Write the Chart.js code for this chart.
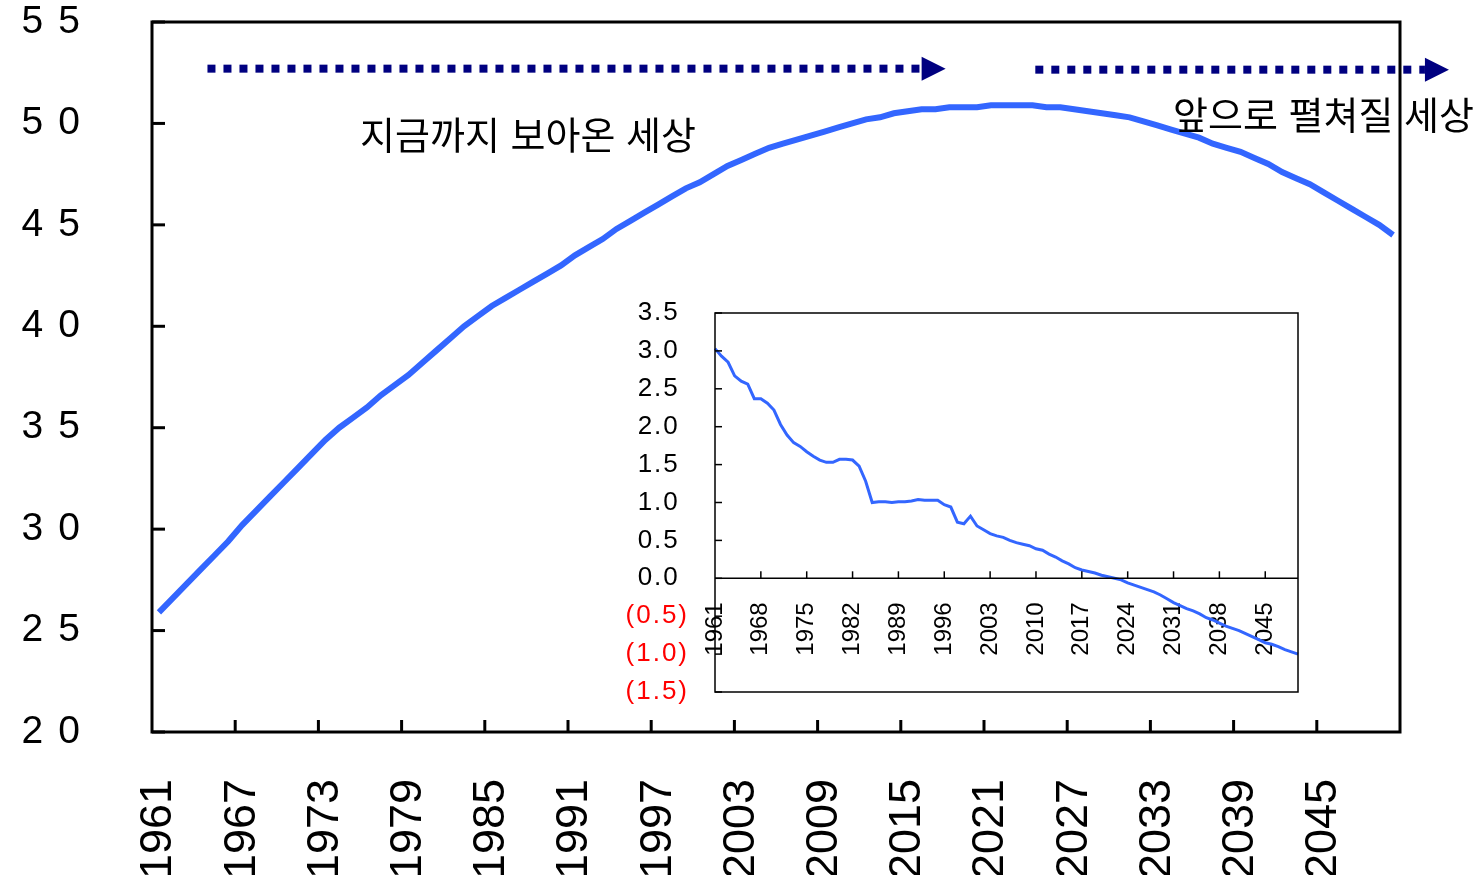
<!DOCTYPE html>
<html lang="ko">
<head>
<meta charset="UTF-8">
<title>지금까지 보아온 세상 / 앞으로 펼쳐질 세상</title>
<script src="https://cdn.jsdelivr.net/npm/chart.js"></script>
<style>
  html, body { margin: 0; padding: 0; background: #fff; }
  #wrap { position: relative; width: 1480px; height: 875px; overflow: hidden; }
  #main { position: absolute; left: 0; top: 0; }
  #inset { position: absolute; left: 600px; top: 290px; }
  .note { position: absolute; font-family: "Noto Sans CJK KR", sans-serif; font-size: 38px; line-height: 1; color: #000; white-space: nowrap; }
</style>
</head>
<body>
<div id="wrap">
  <canvas id="main" width="1480" height="875"></canvas>
  <canvas id="inset" width="720" height="420"></canvas>
  <div class="note" style="left:360px; top:114px;">지금까지 보아온 세상</div>
  <div class="note" style="left:1173px; top:94px;">앞으로 펼쳐질 세상</div>
</div>

<script>
// categories: 1961 ~ 2050
const years = Array.from({ length: 90 }, (_, i) => String(1961 + i));

// main series (left chart)
const mainValues = [
  25.9, 26.6, 27.3, 28.0, 28.7, 29.4, 30.2, 30.9, 31.6, 32.3,
  33.0, 33.7, 34.4, 35.0, 35.5, 36.0, 36.6, 37.1, 37.6, 38.2,
  38.8, 39.4, 40.0, 40.5, 41.0, 41.4, 41.8, 42.2, 42.6, 43.0,
  43.5, 43.9, 44.3, 44.8, 45.2, 45.6, 46.0, 46.4, 46.8, 47.1,
  47.5, 47.9, 48.2, 48.5, 48.8, 49.0, 49.2, 49.4, 49.6, 49.8,
  50.0, 50.2, 50.3, 50.5, 50.6, 50.7, 50.7, 50.8, 50.8, 50.8,
  50.9, 50.9, 50.9, 50.9, 50.8, 50.8, 50.7, 50.6, 50.5, 50.4,
  50.3, 50.1, 49.9, 49.7, 49.5, 49.3, 49.0, 48.8, 48.6, 48.3,
  48.0, 47.6, 47.3, 47.0, 46.6, 46.2, 45.8, 45.4, 45.0, 44.5
];

// inset series (annual change, %)
const insetValues = [
  3.03, 2.93, 2.85, 2.67, 2.60, 2.56, 2.37, 2.37, 2.31, 2.22,
  2.03, 1.89, 1.79, 1.74, 1.67, 1.61, 1.56, 1.53, 1.53, 1.57,
  1.57, 1.56, 1.48, 1.28, 1.00, 1.01, 1.01, 1.00, 1.01, 1.01,
  1.02, 1.04, 1.03, 1.03, 1.03, 0.97, 0.94, 0.74, 0.72, 0.82,
  0.69, 0.64, 0.59, 0.56, 0.54, 0.50, 0.47, 0.45, 0.43, 0.39,
  0.37, 0.32, 0.28, 0.23, 0.19, 0.14, 0.11, 0.09, 0.07, 0.04,
  0.02, 0.00, -0.02, -0.06, -0.09, -0.12, -0.15, -0.18, -0.22, -0.27,
  -0.32, -0.36, -0.40, -0.43, -0.47, -0.52, -0.55, -0.59, -0.63, -0.66,
  -0.69, -0.73, -0.77, -0.81, -0.85, -0.87, -0.90, -0.94, -0.97, -1.00
];

// dotted arrows above the curve (in year / value units)
const arrows = [
  { from: 1964.5, to: 2016.0, y: 52.7 },
  { from: 2024.2, to: 2052.3, y: 52.65 }
];

const BLUE = "#3366FF";
const NAVY = "#000080";
const SANS = '"Liberation Sans", Arial, sans-serif';

// wider letter spacing on y tick labels
function spacedLabels(axisId, px) {
  return {
    id: "spaced_" + axisId,
    afterLayout(chart) {
      const s = chart.scales[axisId];
      if (!s || s._spaced) return;
      const orig = s.drawLabels;
      s.drawLabels = function (area) {
        const ctx = this.ctx;
        ctx.save();
        ctx.letterSpacing = px + "px";
        orig.call(this, area);
        ctx.restore();
      };
      s._spaced = true;
    }
  };
}

function noPad(s) {
  s.paddingTop = 0; s.paddingBottom = 0; s.paddingLeft = 0; s.paddingRight = 0;
}

function line(ctx, x0, y0, x1, y1) {
  ctx.beginPath(); ctx.moveTo(x0, y0); ctx.lineTo(x1, y1); ctx.stroke();
}

const mainDecor = {
  id: "mainDecor",
  afterDraw(chart) {
    const { ctx, chartArea: a, scales: { x, y } } = chart;
    ctx.save();
    ctx.strokeStyle = "#000";
    ctx.lineWidth = 3;
    y.ticks.forEach(t => {
      const py = y.getPixelForValue(t.value);
      line(ctx, a.left, py, a.left + 13, py);
    });
    for (let i = 6; i < years.length; i += 6) {
      const px = (x.getPixelForValue(i - 1) + x.getPixelForValue(i)) / 2;
      line(ctx, px, a.bottom, px, a.bottom - 12);
    }
    ctx.strokeRect(a.left, a.top, a.right - a.left, a.bottom - a.top);

    // arrows
    arrows.forEach(ar => {
      const x0 = x.getPixelForValue(ar.from - 1961);
      const x1 = x.getPixelForValue(ar.to - 1961);
      const py = y.getPixelForValue(ar.y);
      ctx.strokeStyle = NAVY;
      ctx.fillStyle = NAVY;
      ctx.lineWidth = 8;
      ctx.setLineDash([8, 8]);
      line(ctx, x0, py, x1, py);
      ctx.setLineDash([]);
      ctx.beginPath();
      ctx.moveTo(x1, py - 12);
      ctx.lineTo(x1 + 24, py);
      ctx.lineTo(x1, py + 12);
      ctx.closePath();
      ctx.fill();
    });
    ctx.restore();
  }
};

const insetDecor = {
  id: "insetDecor",
  afterDraw(chart) {
    const { ctx, chartArea: a, scales: { x, y } } = chart;
    const y0 = y.getPixelForValue(0);
    ctx.save();
    ctx.strokeStyle = "#000";
    ctx.lineWidth = 1.5;
    ctx.strokeRect(a.left, a.top, a.right - a.left, a.bottom - a.top);
    line(ctx, a.left, y0, a.right, y0);
    y.ticks.forEach(t => {
      const py = y.getPixelForValue(t.value);
      line(ctx, a.left, py, a.left + 7, py);
    });
    for (let i = 7; i < years.length; i += 7) {
      const px = x.getPixelForValue(i);
      line(ctx, px, y0, px, y0 - 7);
    }
    ctx.restore();
  }
};

new Chart(document.getElementById("main"), {
  type: "line",
  data: {
    labels: years,
    datasets: [{
      data: mainValues,
      borderColor: BLUE,
      borderWidth: 6,
      pointRadius: 0,
      tension: 0,
      fill: false
    }]
  },
  options: {
    responsive: false,
    animation: false,
    layout: { padding: { top: 22, right: 80, bottom: 0, left: 0 } },
    plugins: { legend: { display: false }, tooltip: { enabled: false } },
    scales: {
      x: {
        type: "category",
        offset: true,
        grid: { display: false, drawTicks: false },
        border: { display: false },
        ticks: {
          autoSkip: false,
          minRotation: 90,
          maxRotation: 90,
          padding: 47,
          color: "#000",
          font: { family: SANS, size: 45 },
          callback(v, i) { return i % 6 === 0 ? this.getLabelForValue(v) : ""; }
        },
        afterFit(s) { s.height = 143; noPad(s); }
      },
      y: {
        min: 20,
        max: 55,
        grid: { display: false, drawTicks: false },
        border: { display: false },
        ticks: {
          stepSize: 5,
          padding: 57,
          color: "#000",
          font: { family: SANS, size: 39 }
        },
        afterFit(s) { s.width = 152; noPad(s); }
      }
    }
  },
  plugins: [spacedLabels("y", 15), mainDecor]
});

new Chart(document.getElementById("inset"), {
  type: "line",
  data: {
    labels: years,
    datasets: [{
      data: insetValues,
      borderColor: BLUE,
      borderWidth: 3,
      pointRadius: 0,
      tension: 0,
      fill: false
    }]
  },
  options: {
    responsive: false,
    animation: false,
    layout: { padding: { top: 23, right: 22, bottom: 18, left: 0 } },
    plugins: { legend: { display: false }, tooltip: { enabled: false } },
    scales: {
      x: {
        type: "category",
        position: { y: 0 },
        offset: false,
        grid: { display: false, drawTicks: false },
        border: { display: false },
        ticks: {
          autoSkip: false,
          minRotation: 90,
          maxRotation: 90,
          padding: 24,
          color: "#000",
          font: { family: SANS, size: 24 },
          callback(v, i) { return i % 7 === 0 ? this.getLabelForValue(v) : ""; }
        },
        afterFit(s) { noPad(s); }
      },
      y: {
        min: -1.5,
        max: 3.5,
        grid: { display: false, drawTicks: false },
        border: { display: false },
        ticks: {
          stepSize: 0.5,
          padding: 26,
          font: { family: SANS, size: 26 },
          color: c => (c.tick && c.tick.value < 0 ? "#FF0000" : "#000"),
          callback: v => (v < 0 ? "(" + (-v).toFixed(1) + ")" : v.toFixed(1) + " ")
        },
        afterFit(s) { s.width = 115; noPad(s); }
      }
    }
  },
  plugins: [spacedLabels("y", 2), insetDecor]
});
</script>
</body>
</html>
